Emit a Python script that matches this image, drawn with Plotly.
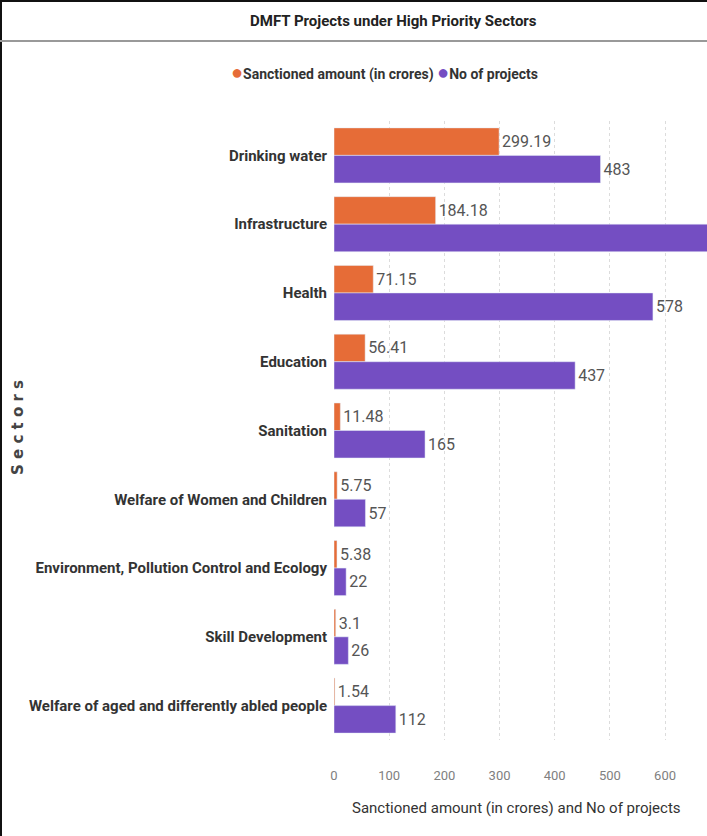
import plotly.graph_objects as go

sectors = ["Drinking water", "Infrastructure", "Health", "Education", "Sanitation",
           "Welfare of Women and Children", "Environment, Pollution Control and Ecology",
           "Skill Development", "Welfare of aged and differently abled people"]
sanctioned = [299.19, 184.18, 71.15, 56.41, 11.48, 5.75, 5.38, 3.1, 1.54]
projects = [483, 712, 578, 437, 165, 57, 22, 26, 112]
tick_vals = [0, 100, 200, 300, 400, 500, 600]
x_max = 676

ORANGE = "#E66C37"
PURPLE = "#744EC2"
FONT = "Roboto, sans-serif"

W, H = 707, 836
L, R, T, B = 334, 0, 121, 96

def px_x(p):
    return (p - L) / (W - L - R)

def px_y(p):
    return (H - B - p) / (H - T - B)

def positions(vals):
    return ["none" if v > x_max else "outside" for v in vals]

fig = go.Figure()
fig.add_trace(go.Bar(y=sectors, x=sanctioned, orientation="h", marker_color=ORANGE,
                     texttemplate="%{x}", textposition=positions(sanctioned),
                     textfont=dict(color="#555555", size=16, family=FONT),
                     cliponaxis=True, showlegend=False, name="Sanctioned amount (in crores)"))
fig.add_trace(go.Bar(y=sectors, x=projects, orientation="h", marker_color=PURPLE,
                     texttemplate="%{x}", textposition=positions(projects),
                     textfont=dict(color="#555555", size=16, family=FONT),
                     cliponaxis=True, showlegend=False, name="No of projects"))

fig.update_layout(
    width=W, height=H, margin=dict(l=L, r=R, t=T, b=B, autoexpand=False),
    paper_bgcolor="white", plot_bgcolor="white",
    barmode="group", bargap=0.2, bargroupgap=0,
    showlegend=False,
    font=dict(family=FONT),
)
fig.update_xaxes(range=[0, x_max], tickvals=tick_vals, showgrid=True, gridcolor="#dcdcdc",
                 griddash="dot", gridwidth=1, zeroline=False, showline=False,
                 tickfont=dict(color="#808080", size=13, family=FONT), ticks="",
                 ticklabelstandoff=26, automargin=False)
fig.update_yaxes(autorange="reversed", showgrid=False, showline=False, ticks="",
                 tickfont=dict(color="#333333", size=15, family=FONT, weight="bold"),
                 ticklabelstandoff=6, automargin=False)

ann = [
    dict(text="DMFT Projects under High Priority Sectors", x=px_x(393), y=px_y(21),
         font=dict(size=15, color="#222222", family=FONT, weight="bold")),
    dict(text=("<span style='color:%s;font-size:20px'>●</span>Sanctioned amount (in crores) "
               "<span style='color:%s;font-size:20px'>●</span>No of projects") % (ORANGE, PURPLE),
         x=px_x(384), y=px_y(72), font=dict(size=14, color="#333333", family=FONT, weight="bold")),
    dict(text="Sanctioned amount (in crores) and No of projects", x=px_x(683), y=px_y(808),
         xanchor="right", font=dict(size=15, color="#333333", family=FONT)),
    dict(text=" ".join("Sectors"), x=px_x(18), y=px_y(428), textangle=-90,
         font=dict(size=15, color="#444444", family="DejaVu Sans", weight="bold")),
]
for a in ann:
    a.setdefault("xanchor", "center")
    fig.add_annotation(xref="paper", yref="paper", yanchor="middle", showarrow=False, **a)

fig.add_shape(type="line", xref="paper", yref="paper", x0=px_x(1), x1=px_x(1),
              y0=px_y(0), y1=px_y(836), line=dict(color="#111111", width=2))
fig.add_shape(type="line", xref="paper", yref="paper", x0=px_x(0), x1=px_x(707),
              y0=px_y(1), y1=px_y(1), line=dict(color="#111111", width=2))
fig.add_shape(type="line", xref="paper", yref="paper", x0=px_x(0), x1=px_x(707),
              y0=px_y(41), y1=px_y(41), line=dict(color="#999999", width=2))

fig.write_html("out.html", config={"displayModeBar": False},
               post_script="document.body.style.margin='0';document.body.style.overflow='hidden';")
